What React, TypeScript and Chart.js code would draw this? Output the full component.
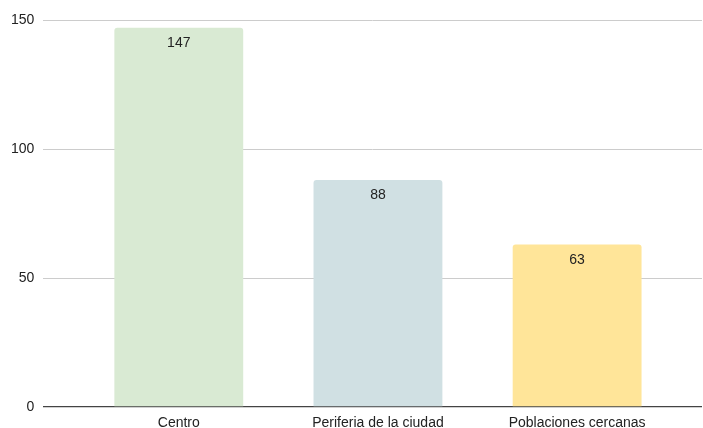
import React, { useEffect, useRef } from "react";
import { Chart, registerables } from "chart.js";

Chart.register(...registerables);

const categories = ["Centro", "Periferia de la ciudad", "Poblaciones cercanas"];
const values = [147, 88, 63];
const barColors = ["#d9ead3", "#d0e0e3", "#ffe599"];
const yTicks = [0, 50, 100, 150];

const FONT = "'Liberation Sans', Arial, Helvetica, sans-serif";

const valueLabels = {
  id: "valueLabels",
  afterDatasetsDraw(chart: any) {
    const ctx = chart.ctx;
    const meta = chart.getDatasetMeta(0);
    ctx.save();
    ctx.font = `14px ${FONT}`;
    ctx.fillStyle = "#222222";
    ctx.textAlign = "center";
    ctx.textBaseline = "alphabetic";
    meta.data.forEach((el: any, i: number) => {
      ctx.fillText(String(values[i]), el.x, el.y + 19.5);
    });
    ctx.restore();
  },
};

export default function App() {
  const ref = useRef<HTMLCanvasElement | null>(null);
  useEffect(() => {
    document.body.style.margin = "0";
    document.body.style.overflow = "hidden";
    if (!ref.current) return;
    const chart = new Chart(ref.current, {
      type: "bar",
      data: {
        datasets: [
          {
            data: values.map((v, i) => ({ x: i, y: v })),
            backgroundColor: barColors,
            borderRadius: 3,
            borderSkipped: "bottom",
            barPercentage: 0.647,
            categoryPercentage: 1,
          },
        ],
      },
      options: {
        animation: false,
        responsive: false,
        maintainAspectRatio: false,
        layout: { padding: { left: 2, right: 1, top: 20, bottom: 0 } },
        plugins: { legend: { display: false }, tooltip: { enabled: false } },
        scales: {
          x: {
            type: "linear",
            offset: false,
            min: -0.68,
            max: 2.627,
            grid: { display: false, drawTicks: false },
            border: { display: false },
            afterBuildTicks: (s: any) => {
              s.ticks = categories.map((_, i) => ({ value: i }));
            },
            ticks: {
              autoSkip: false,
              maxRotation: 0,
              minRotation: 0,
              padding: 9,
              color: "#222222",
              font: { family: FONT, size: 14, lineHeight: 1 },
              callback: (v: any) => categories[v as number] ?? "",
            },
          },
          y: {
            min: 0,
            max: 150,
            afterBuildTicks: (s: any) => {
              s.ticks = yTicks.map((v) => ({ value: v }));
            },
            grid: {
              drawTicks: false,
              color: (c: any) => (c.tick && c.tick.value === 0 ? "#444444" : "#cccccc"),
              lineWidth: (c: any) => (c.tick && c.tick.value === 0 ? 1.3 : 1),
            },
            border: { display: false },
            ticks: {
              padding: 9,
              color: "#222222",
              font: { family: FONT, size: 14, lineHeight: 1 },
            },
          },
        },
      },
      plugins: [valueLabels],
    });
    return () => chart.destroy();
  }, []);
  return (
    <div style={{ width: 703, height: 439, overflow: "hidden" }}>
      <canvas ref={ref} width={703} height={439} style={{ width: 703, height: 439, display: "block" }} />
    </div>
  );
}
